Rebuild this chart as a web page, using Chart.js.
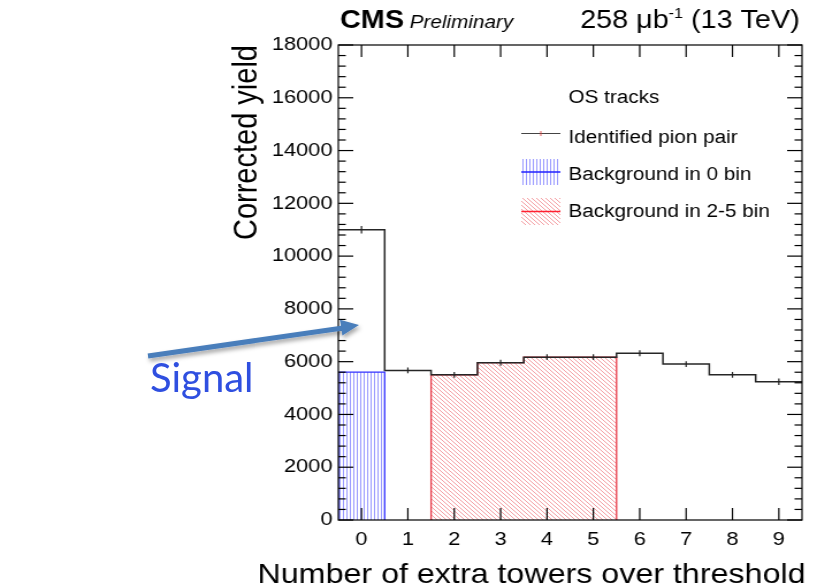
<!DOCTYPE html>
<html><head><meta charset="utf-8">
<script src="https://cdn.jsdelivr.net/npm/chart.js@4.4.1/dist/chart.umd.min.js"></script>
<style>
html,body{margin:0;padding:0;background:#fff;width:817px;height:587px;overflow:hidden;}
#wrap{position:absolute;left:0;top:0;width:710px;height:587px;transform:scaleX(1.1507);transform-origin:0 0;}
#signal{position:absolute;left:150px;top:353px;font-family:Lato,"Open Sans",sans-serif;font-size:40px;line-height:48px;color:#2F4FE0;}
#arrow{position:absolute;left:0;top:0;}
</style></head><body>
<div id="wrap"><canvas id="c" width="710" height="587"></canvas></div>
<svg id="arrow" width="817" height="587">
 <defs><filter id="sh" x="-10%" y="-50%" width="130%" height="250%"><feDropShadow dx="1.5" dy="3" stdDeviation="2" flood-color="#000" flood-opacity="0.35"/></filter></defs>
 <g filter="url(#sh)">
  <line x1="148" y1="356" x2="343" y2="328" stroke="#4A7EBB" stroke-width="5"/>
  <polygon points="359,325 342.4,335.5 340.0,319.7" fill="#4A7EBB"/>
 </g>
</svg>
<div id="signal">Signal</div>
<script>
const categories = [0, 1, 2, 3, 4, 5, 6, 7, 8, 9];
const pionPair   = [11000, 5670, 5500, 5960, 6170, 6170, 6320, 5910, 5500, 5240];
const pionErr    = [140, 110, 110, 110, 110, 110, 110, 110, 110, 120];
const bkgZeroBins = [0];
const bkgZero     = [5600];
const bkgSideBins = [2, 3, 4, 5];
const bkgSide     = [5500, 5960, 6170, 6170];
const yTicks = [0, 2000, 4000, 6000, 8000, 10000, 12000, 14000, 16000, 18000];
const xTicks = categories;
const xTitle = 'Number of extra towers over threshold';
const yTitle = 'Corrected yield';

const FONT = '"Liberation Sans", Arial, Helvetica, sans-serif';

function histPoints(bins, vals, closed) {
  const pts = [];
  if (closed) pts.push({x: bins[0] - 0.5, y: 0});
  bins.forEach((b, i) => pts.push({x: b - 0.5, y: vals[i]}));
  pts.push({x: bins[bins.length - 1] + 0.5, y: vals[vals.length - 1]});
  if (closed) pts.push({x: bins[bins.length - 1] + 0.5, y: 0});
  return pts;
}

function hatch(color, type) {
  const c = document.createElement('canvas');
  const s = type === 'v' ? 3 : 4;
  c.width = s; c.height = s;
  const g = c.getContext('2d');
  g.strokeStyle = color; g.lineWidth = 1;
  g.beginPath();
  if (type === 'v') { g.moveTo(1.5, 0); g.lineTo(1.5, s); }
  else { for (const k of [-s, 0, s]) { g.moveTo(k, 0); g.lineTo(k + s, s); } }
  g.stroke();
  return g.createPattern(c, 'repeat');
}
const bluePat = hatch('rgba(70,70,255,0.55)', 'v');
const redPat = hatch('rgba(235,80,90,0.55)', 'd');

function line(ctx, x1, y1, x2, y2) { ctx.beginPath(); ctx.moveTo(x1, y1); ctx.lineTo(x2, y2); ctx.stroke(); }

const decor = {
  id: 'decor',
  afterDatasetsDraw(chart) {
    const {ctx, chartArea: a, scales: {x, y}} = chart;
    ctx.save();
    ctx.strokeStyle = '#222'; ctx.lineWidth = 1.2;
    categories.forEach((c, i) => {
      const px = x.getPixelForValue(c);
      line(ctx, px, y.getPixelForValue(pionPair[i] - pionErr[i]), px, y.getPixelForValue(pionPair[i] + pionErr[i]));
    });
    ctx.strokeStyle = '#000'; ctx.lineWidth = 1.2;
    ctx.strokeRect(a.left, a.top, a.right - a.left, a.bottom - a.top);
    xTicks.forEach(v => {
      const px = x.getPixelForValue(v);
      line(ctx, px, a.bottom, px, a.bottom - 12);
      line(ctx, px, a.top, px, a.top + 12);
    });
    for (let v = 0; v <= yTicks[yTicks.length - 1]; v += 400) {
      const py = y.getPixelForValue(v);
      const L = yTicks.includes(v) ? 13 : 6.5;
      line(ctx, a.left, py, a.left + L, py);
      line(ctx, a.right, py, a.right - L, py);
    }
    ctx.restore();
  },
  afterDraw(chart) {
    const ctx = chart.ctx;
    const a = chart.chartArea;
    ctx.save();
    ctx.fillStyle = '#000';
    ctx.textBaseline = 'alphabetic';
    ctx.textAlign = 'right';
    ctx.font = '28px ' + FONT;
    ctx.fillText(xTitle, a.right + 3, 583);
    ctx.textAlign = 'left';
    ctx.font = 'bold 25px ' + FONT;
    ctx.fillText('CMS', 295.5, 28);
    ctx.font = 'italic 18px ' + FONT;
    ctx.fillText('Preliminary', 356, 28);
    const parts = [['258 ', 25, 0], ['\u03bc', 25, 0], ['b', 25, 0], ['-1', 14, -10], [' (13 TeV)', 25, 0]];
    let total = 0;
    parts.forEach(p => { ctx.font = p[1] + 'px ' + FONT; total += ctx.measureText(p[0]).width; });
    let xx = 695 - total;
    parts.forEach(p => { ctx.font = p[1] + 'px ' + FONT; ctx.fillText(p[0], xx, 28 + p[2]); xx += ctx.measureText(p[0]).width; });
    ctx.font = '18px ' + FONT;
    ctx.fillText('OS tracks', 494, 103);
    ctx.fillText('Identified pion pair', 494, 143);
    ctx.fillText('Background in 0 bin', 494, 180);
    ctx.fillText('Background in 2-5 bin', 494, 217);
    ctx.strokeStyle = '#444'; ctx.lineWidth = 1.2;
    line(ctx, 453, 133.5, 487, 133.5);
    ctx.strokeStyle = 'rgba(220,60,60,0.7)'; line(ctx, 470, 131, 470, 136);
    ctx.fillStyle = bluePat; ctx.fillRect(453, 159, 34, 26);
    ctx.strokeStyle = '#2020ff'; ctx.lineWidth = 1.3; line(ctx, 453, 172, 487, 172);
    ctx.fillStyle = redPat; ctx.fillRect(453, 198, 34, 27);
    ctx.strokeStyle = '#ff2030'; ctx.lineWidth = 1.3; line(ctx, 453, 211.5, 487, 211.5);
    ctx.restore();
  }
};

new Chart(document.getElementById('c'), {
  type: 'line',
  data: {
    datasets: [
      { label: 'Identified pion pair', data: histPoints(categories, pionPair, false), stepped: true,
        borderColor: '#262626', borderWidth: 1.5, pointRadius: 0, fill: false },
      { label: 'Background in 2-5 bin', data: histPoints(bkgSideBins, bkgSide, true), stepped: true,
        borderColor: '#e83a48', borderWidth: 1.3, pointRadius: 0, fill: 'origin', backgroundColor: redPat },
      { label: 'Background in 0 bin', data: histPoints(bkgZeroBins, bkgZero, true), stepped: true,
        borderColor: '#3030ff', borderWidth: 1.3, pointRadius: 0, fill: 'origin', backgroundColor: bluePat }
    ]
  },
  options: {
    responsive: false, animation: false, devicePixelRatio: 1,
    layout: { padding: { left: 200, right: 13, top: 45, bottom: 0 } },
    plugins: { legend: { display: false }, tooltip: { enabled: false }, title: { display: false } },
    scales: {
      x: {
        type: 'linear', min: -0.5, max: 9.5,
        afterBuildTicks(s) { s.ticks = xTicks.map(v => ({value: v})); },
        afterFit(s) { s.height = 67; },
        grid: { display: false, drawTicks: false }, border: { display: false },
        ticks: { color: '#000', font: { size: 19, family: FONT }, padding: 8, maxRotation: 0, autoSkip: false, callback: v => String(v) },
        title: { display: false }
      },
      y: {
        min: 0, max: 18000,
        afterBuildTicks(s) { s.ticks = yTicks.map(v => ({value: v})); },
        afterFit(s) { s.width = 94; },
        grid: { display: false, drawTicks: false }, border: { display: false },
        ticks: { color: '#000', font: { size: 19, family: FONT }, padding: 5, autoSkip: false, callback: v => String(v) },
        title: { display: true, text: yTitle, align: 'end', color: '#000',
          font: { size: 29, family: FONT, lineHeight: 1 }, padding: 0 }
      }
    }
  },
  plugins: [decor]
});
</script>
</body></html>
